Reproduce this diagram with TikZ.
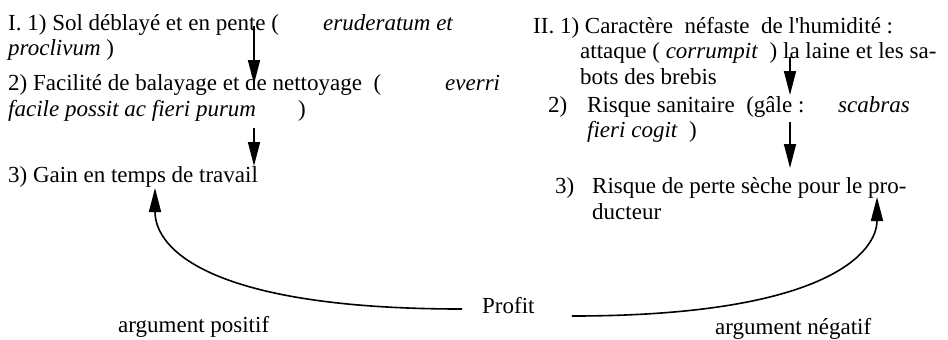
\documentclass[tikz,border=0pt]{standalone}
\usepackage{fontspec}
\setmainfont{Liberation Serif}
\usetikzlibrary{arrows.meta}

\begin{document}
\begin{tikzpicture}[x=1pt,y=1pt]
	\tikzstyle{every node}+=[inner sep=0pt]
	\tikzstyle{txt}=[anchor=base west,font=\fontsize{23}{25}\selectfont]
	\tikzstyle{down}=[line width=1.6pt,-{Triangle[length=24pt,width=12pt]}]
	\tikzstyle{curve}=[line width=1.6pt,-{Triangle[length=24pt,width=12pt]}]
	\useasboundingbox (0,0) rectangle (948,-340);
	% argument positif
	\draw (8,-30) node[txt] (solpente) {I. 1) Sol déblayé et en pente (};
	\draw (323,-30) node[txt] (eruderatum) {\textit{eruderatum et}};
	\draw (8,-55) node[txt] (proclivum) {\textit{proclivum} )};
	\draw (8,-90) node[txt] (facilite) {2) Facilité de balayage et de nettoyage\ \ (};
	\draw (445,-90) node[txt] (everri) {\textit{everri}};
	\draw (8,-116) node[txt] (facile) {\textit{facile possit ac fieri purum}};
	\draw (298,-116) node[txt] (parfacile) {)};
	\draw (8,-182) node[txt] (gain) {3) Gain en temps de travail};
	% argument negatif
	\draw (533,-33) node[txt] (caractere) {II. 1) Caractère\ \ néfaste\ \ de l\textquotesingle humidité :};
	\draw (580,-58) node[txt] (attaque) {attaque ( \textit{corrumpit}\ \ ) la laine et les sa-};
	\draw (580,-84) node[txt] (bots) {bots des brebis};
	\draw (548,-112) node[txt] (num2) {2)};
	\draw (587,-112) node[txt] (sanitaire) {Risque sanitaire\ \ (gâle :};
	\draw (838,-112) node[txt] (scabras) {\textit{scabras}};
	\draw (587,-137) node[txt] (cogit) {\textit{fieri cogit}\ \ )};
	\draw (555,-193) node[txt] (num3) {3)};
	\draw (592,-193) node[txt] (perte) {Risque de perte sèche pour le pro-};
	\draw (592,-219) node[txt] (ducteur) {ducteur};
	% profit
	\draw (482,-313) node[txt] (profit) {Profit};
	\draw (118,-332) node[txt] (positif) {argument positif};
	\draw (715,-334) node[txt] (negatif) {argument négatif};
	% arrow ends
	\coordinate (gA1) at (254,-26);
	\coordinate (gA2) at (254,-84);
	\coordinate (gB1) at (254,-128);
	\coordinate (gB2) at (254,-166);
	\coordinate (dA1) at (790,-57);
	\coordinate (dA2) at (790,-95);
	\coordinate (dB1) at (790,-122);
	\coordinate (dB2) at (790,-168);
	\coordinate (gaintip) at (155,-188);
	\coordinate (pertetip) at (877,-197);
	\draw [down] (gA1) -- (gA2);
	\draw [down] (gB1) -- (gB2);
	\draw [down] (dA1) -- (dA2);
	\draw [down] (dB1) -- (dB2);
	\draw [curve] ([xshift=-20pt,yshift=-4pt]profit.west) .. controls +(-250,0) and +(0,-62) .. (gaintip);
	\draw [curve] ([xshift=37pt,yshift=-11pt]profit.east) .. controls +(260,0) and +(0,-53) .. (pertetip);
\end{tikzpicture}
\end{document}
